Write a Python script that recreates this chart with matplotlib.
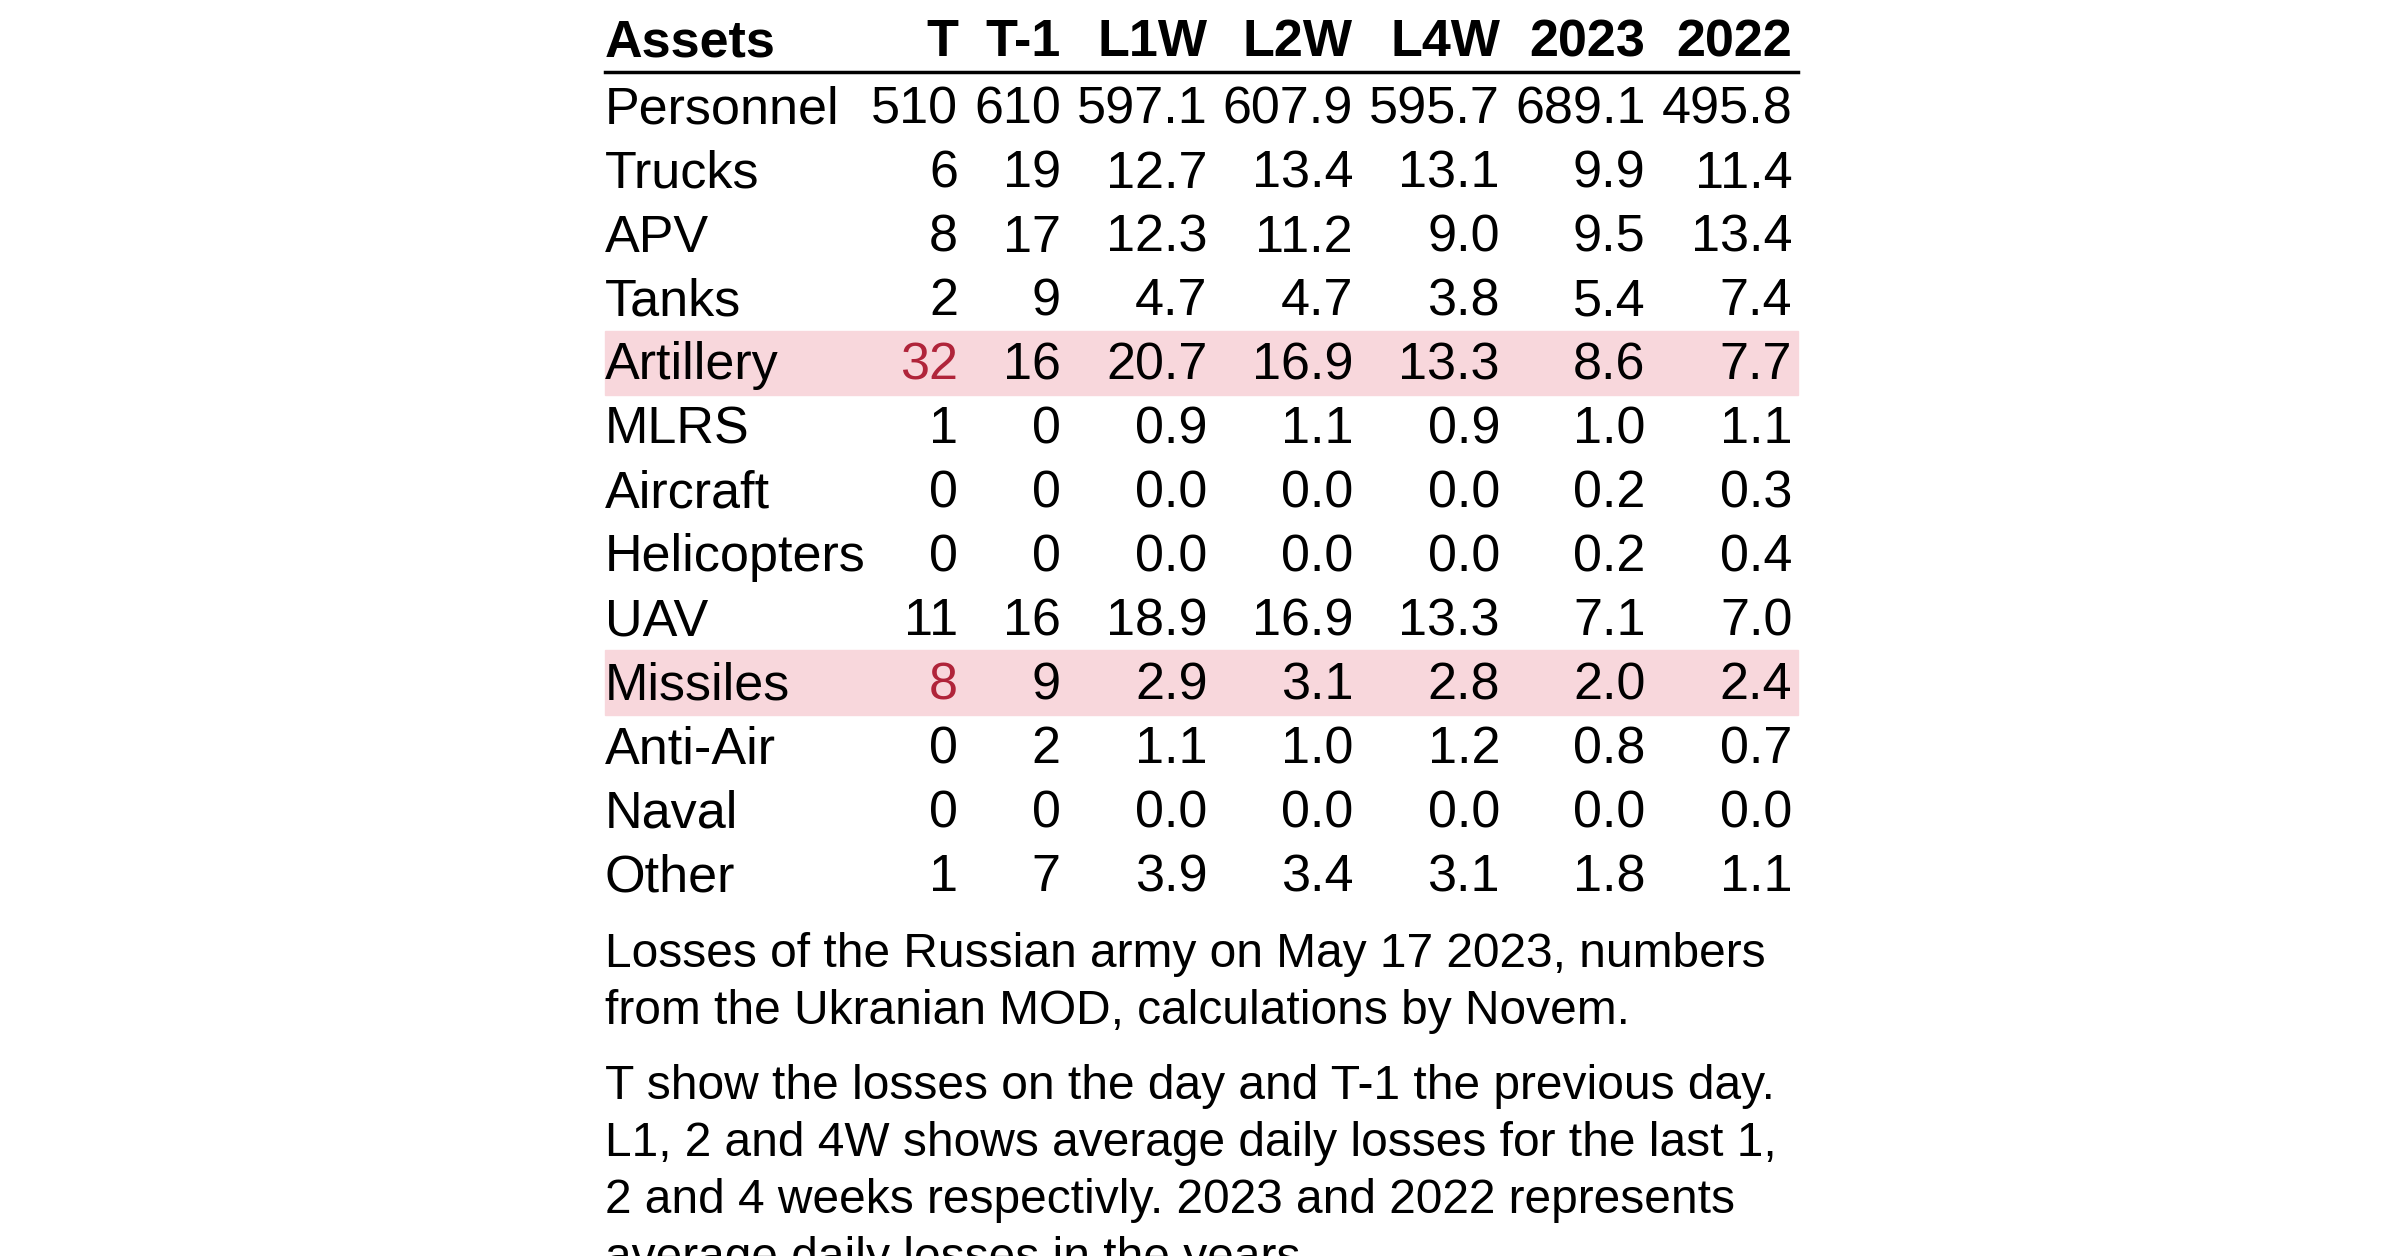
import matplotlib.pyplot as plt
from matplotlib.patches import Rectangle

plt.rcParams['font.family'] = ['Liberation Sans', 'DejaVu Sans']

columns = ['T', 'T-1', 'L1W', 'L2W', 'L4W', '2023', '2022']
assets = ['Personnel', 'Trucks', 'APV', 'Tanks', 'Artillery', 'MLRS', 'Aircraft',
          'Helicopters', 'UAV', 'Missiles', 'Anti-Air', 'Naval', 'Other']
t_vals = [510, 6, 8, 2, 32, 1, 0, 0, 11, 8, 0, 0, 1]
t1_vals = [610, 19, 17, 9, 16, 0, 0, 0, 16, 9, 2, 0, 7]
l1w = [597.1, 12.7, 12.3, 4.7, 20.7, 0.9, 0.0, 0.0, 18.9, 2.9, 1.1, 0.0, 3.9]
l2w = [607.9, 13.4, 11.2, 4.7, 16.9, 1.1, 0.0, 0.0, 16.9, 3.1, 1.0, 0.0, 3.4]
l4w = [595.7, 13.1, 9.0, 3.8, 13.3, 0.9, 0.0, 0.0, 13.3, 2.8, 1.2, 0.0, 3.1]
y2023 = [689.1, 9.9, 9.5, 5.4, 8.6, 1.0, 0.2, 0.2, 7.1, 2.0, 0.8, 0.0, 1.8]
y2022 = [495.8, 11.4, 13.4, 7.4, 7.7, 1.1, 0.3, 0.4, 7.0, 2.4, 0.7, 0.0, 1.1]
highlight_rows = ['Artillery', 'Missiles']

caption1 = ["Losses of the Russian army on May 17 2023, numbers",
            "from the Ukranian MOD, calculations by Novem."]
caption2 = ["T show the losses on the day and T-1 the previous day.",
            "L1, 2 and 4W shows average daily losses for the last 1,",
            "2 and 4 weeks respectivly. 2023 and 2022 represents",
            "average daily losses in the years."]

W, H = 1568, 821
fig = plt.figure(figsize=(24, 12.56), dpi=100)

def fx(x):
    return x / W

def fy(y):
    return 1 - y / H

col_right = [626, 693, 789, 884, 980, 1075, 1171]
left, right = 395, 1175
fs = 37.5
red = '#b0243a'

fig.text(fx(left), fy(28), 'Assets', fontsize=fs, fontweight='bold', va='center')
for c, xr in zip(columns, col_right):
    fig.text(fx(xr), fy(28), c, fontsize=fs, fontweight='bold', va='center', ha='right')
fig.add_artist(plt.Line2D([fx(left), fx(right)], [fy(47), fy(47)], color='black', lw=2.5))

rows = list(zip(t_vals, t1_vals, l1w, l2w, l4w, y2023, y2022))
for i, (name, vals) in enumerate(zip(assets, rows)):
    yc = 70 + i * 41.8
    hl = name in highlight_rows
    if hl:
        fig.add_artist(Rectangle((fx(left), fy(yc + 21)), fx(right) - fx(left), 42 / H,
                                 color='#f8d7dc', zorder=0))
    fig.text(fx(left), fy(yc + 2), name, fontsize=fs, va='center')
    for j, (v, xr) in enumerate(zip(vals, col_right)):
        s = str(v) if j < 2 else f'{v:.1f}'
        fig.text(fx(xr), fy(yc + 2), s, fontsize=fs, va='center', ha='right',
                 color=red if (hl and j == 0) else 'black')

for k, line in enumerate(caption1):
    fig.text(fx(left), fy(624 + k * 37), line, fontsize=34.5, va='center')
for k, line in enumerate(caption2):
    fig.text(fx(left), fy(710 + k * 37.5), line, fontsize=34.5, va='center')

fig.savefig('out.png', dpi=100)
